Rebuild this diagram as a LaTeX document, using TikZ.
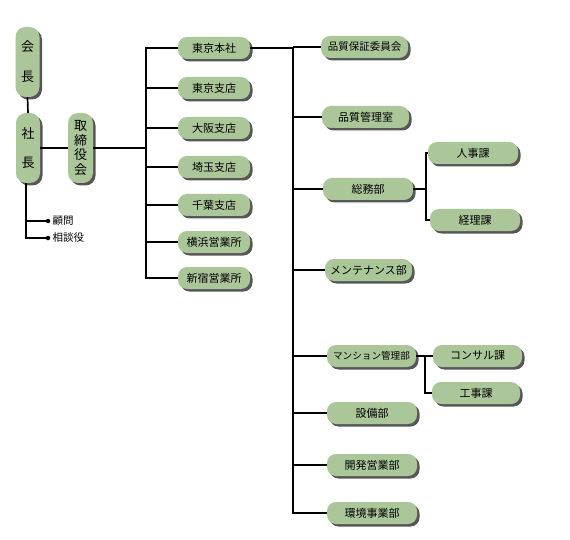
\documentclass[tikz,border=0pt]{standalone}
\usepackage{fontspec}
\setmainfont{Noto Sans CJK JP}
\usetikzlibrary{shadows}
\definecolor{boxgreen}{HTML}{ABC79A}
\definecolor{shadowgray}{HTML}{3A3A3A}
\tikzset{
  orgbox/.style={fill=boxgreen, rounded corners=9pt, inner sep=0pt,
    minimum height=22pt, font=\fontsize{11}{13}\selectfont,
    drop shadow={shadow xshift=2.5pt, shadow yshift=-2.5pt, fill=shadowgray, opacity=0.85}},
  vbox/.style={fill=boxgreen, rounded corners=10pt, inner sep=0pt,
    minimum width=24pt, minimum height=70pt, align=center,
    drop shadow={shadow xshift=2.5pt, shadow yshift=-2.5pt, fill=shadowgray, opacity=0.85}},
  conn/.style={line width=1.7pt, black},
  bullet/.style={circle, fill=black, inner sep=0pt, minimum size=4.5pt},
  smalltext/.style={font=\fontsize{10.5}{12}\selectfont, inner sep=1pt, anchor=west}
}
\begin{document}
\begin{tikzpicture}[x=1pt,y=-1pt]
\useasboundingbox[fill=white] (0,0) rectangle (570,540);

% bus coordinates
\coordinate (b1) at (146,0);
\coordinate (b2) at (293,0);
\coordinate (b3) at (426,0);
\coordinate (b4) at (425,0);

% top-level vertical boxes
\node[vbox, font=\fontsize{13}{15}\selectfont] (kaicho) at (27.5,62) {会\\[15pt]長};
\node[vbox, font=\fontsize{13}{15}\selectfont] (shacho) at (28,148) {社\\[14pt]長};
\node[vbox, minimum width=25pt, font=\fontsize{13}{14.5}\selectfont] (torishimari) at (80.5,148) {取\\締\\役\\会};

% advisors
\node[bullet] (d1) at (48,221) {};
\node[bullet] (d2) at (48,238) {};
\node[smalltext] (komon) at ([xshift=1pt]d1.east) {顧問};
\node[smalltext] (sodan) at ([xshift=1pt]d2.east) {相談役};

% branch column
\node[orgbox, minimum width=72pt] (tokyohonsha) at (214,48) {東京本社};
\node[orgbox, minimum width=72pt] (tokyoshiten) at (214,88) {東京支店};
\node[orgbox, minimum width=72pt] (osaka) at (214,128) {大阪支店};
\node[orgbox, minimum width=72pt] (saitama) at (214,167) {埼玉支店};
\node[orgbox, minimum width=72pt] (chiba) at (214,205) {千葉支店};
\node[orgbox, minimum width=72pt] (yokohama) at (214,242) {横浜営業所};
\node[orgbox, minimum width=72pt] (shinjuku) at (214,278) {新宿営業所};

% department column
\node[orgbox, minimum width=87pt, font=\fontsize{10.5}{12}\selectfont] (hinshitsuhosho) at (364.5,47) {品質保証委員会};
\node[orgbox, minimum width=87pt] (hinshitsukanri) at (365.5,117) {品質管理室};
\node[orgbox, minimum width=90pt] (somu) at (368,189) {総務部};
\node[orgbox, minimum width=87pt] (maintenance) at (368.5,270) {メンテナンス部};
\node[orgbox, minimum width=89pt, font=\fontsize{9.6}{12}\selectfont] (mansion) at (371.5,356) {マンション管理部};
\node[orgbox, minimum width=90pt] (setsubi) at (372,413) {設備部};
\node[orgbox, minimum width=90pt] (kaihatsu) at (372,465) {開発営業部};
\node[orgbox, minimum width=90pt] (kankyo) at (372,513) {環境事業部};

% sections
\node[orgbox, minimum width=90pt] (jinji) at (473,153) {人事課};
\node[orgbox, minimum width=90pt] (keiri) at (475,220) {経理課};
\node[orgbox, minimum width=89pt] (consul) at (477.5,356) {コンサル課};
\node[orgbox, minimum width=88pt] (koji) at (476,393) {工事課};

% connectors: top
\draw[conn] (kaicho.south) -- (shacho.north);
\draw[conn] (shacho.east) -- (torishimari.west);
\draw[conn] (torishimari.east) -- (torishimari.east -| b1);
\draw[conn] (shacho.south -| 26,0) |- (d2.center);
\draw[conn] (d1.center) -- (d1.center -| 26,0);

% bus 1
\draw[conn] (tokyohonsha.west) -- (tokyohonsha.west -| b1) -- (shinjuku.west -| b1) -- (shinjuku.west);
\foreach \n in {tokyoshiten,osaka,saitama,chiba,yokohama}
  \draw[conn] (\n.west) -- (\n.west -| b1);

% bus 2
\draw[conn] (tokyohonsha.east) -- (tokyohonsha.east -| b2) -- (kankyo.west -| b2) -- (kankyo.west);
\foreach \n in {hinshitsuhosho,hinshitsukanri,somu,maintenance,mansion,setsubi,kaihatsu}
  \draw[conn] (\n.west) -- (\n.west -| b2);

% bus 3
\draw[conn] (jinji.west) -- (jinji.west -| b3) -- (keiri.west -| b3) -- (keiri.west);
\draw[conn] (somu.east) -- (somu.east -| b3);

% bus 4
\draw[conn] (mansion.east) -- (consul.west);
\draw[conn] (consul.west -| b4) -- (koji.west -| b4) -- (koji.west);
\end{tikzpicture}
\end{document}
